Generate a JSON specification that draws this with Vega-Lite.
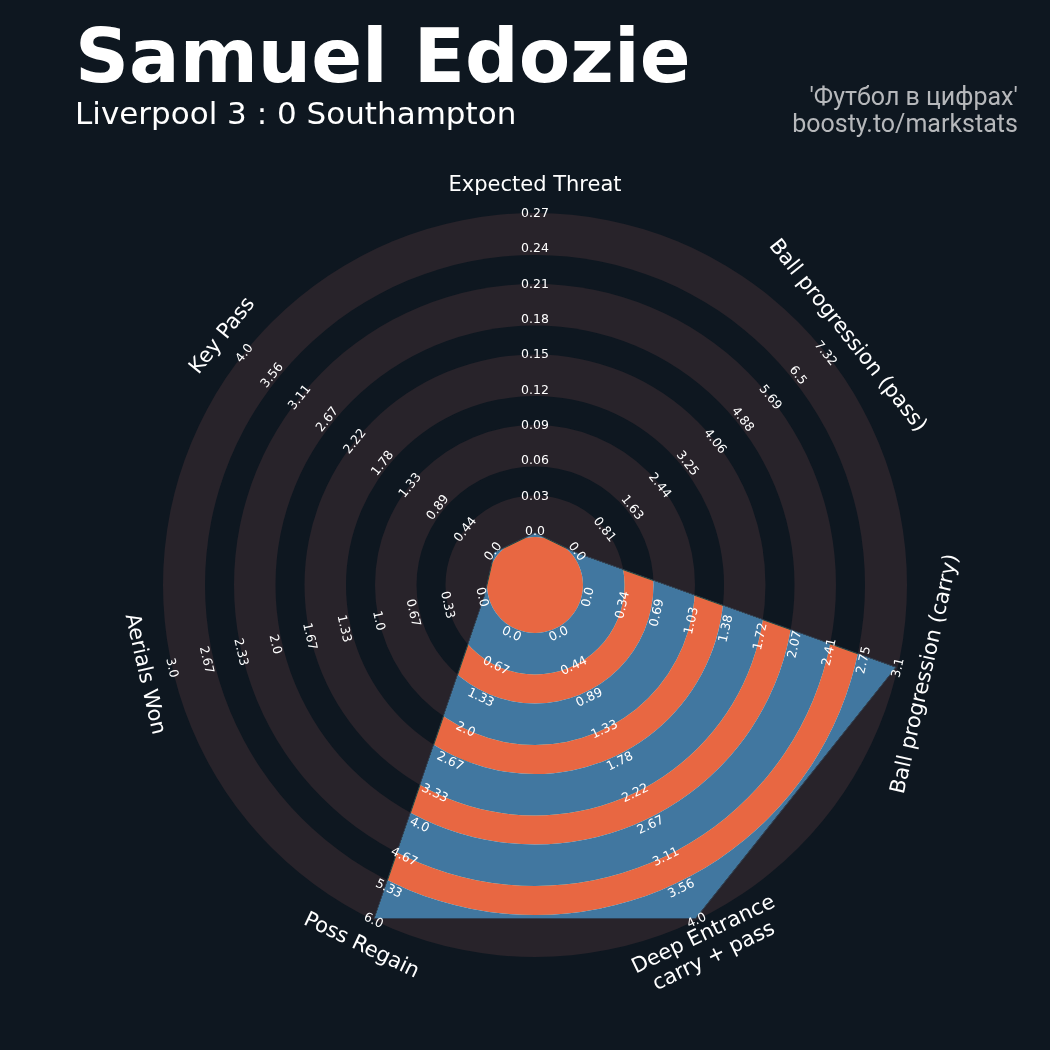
{
  "$schema": "https://vega.github.io/schema/vega-lite/v6.json",
  "width": 744,
  "height": 744,
  "autosize": {"type": "none"},
  "padding": {"left": 163, "top": 213, "right": 143, "bottom": 93},
  "background": "#0e1720",
  "config": {"view": {"stroke": null}, "font": "DejaVu Sans"},
  "title": {
    "text": "Samuel Edozie",
    "subtitle": "Liverpool 3 : 0 Southampton",
    "anchor": "start",
    "frame": "group",
    "dx": -88,
    "offset": -46,
    "font": "DejaVu Sans",
    "fontSize": 75,
    "fontWeight": "bold",
    "color": "#ffffff",
    "subtitleFont": "DejaVu Sans",
    "subtitleFontSize": 31,
    "subtitleColor": "#ffffff",
    "subtitlePadding": 2
  },
  "datasets": {
    "params": [
      {"index": 0, "name": "Expected Threat", "value": 0, "max": 0.27},
      {"index": 1, "name": "Ball progression (pass)", "value": 0, "max": 7.32},
      {"index": 2, "name": "Ball progression (carry)", "value": 3.1, "max": 3.1},
      {"index": 3, "name": "Deep Entrance\ncarry + pass", "value": 4.0, "max": 4.0},
      {"index": 4, "name": "Poss Regain", "value": 6.0, "max": 6.0},
      {"index": 5, "name": "Aerials Won", "value": 0, "max": 3.0},
      {"index": 6, "name": "Key Pass", "value": 0, "max": 4.0}
    ],
    "bg": [
      {"r": 1.0, "band": "gray"},
      {"r": 0.8871, "band": "dark"},
      {"r": 0.8091, "band": "gray"},
      {"r": 0.6976, "band": "dark"},
      {"r": 0.6196, "band": "gray"},
      {"r": 0.5081, "band": "dark"},
      {"r": 0.4301, "band": "gray"},
      {"r": 0.3185, "band": "dark"},
      {"r": 0.2406, "band": "gray"}
    ],
    "fg": [
      {"r1": 0, "r2": 0.129, "band": "orange"},
      {"r1": 0.129, "r2": 0.2406, "band": "blue"},
      {"r1": 0.2406, "r2": 0.3185, "band": "orange"},
      {"r1": 0.3185, "r2": 0.4301, "band": "blue"},
      {"r1": 0.4301, "r2": 0.5081, "band": "orange"},
      {"r1": 0.5081, "r2": 0.6196, "band": "blue"},
      {"r1": 0.6196, "r2": 0.6976, "band": "orange"},
      {"r1": 0.6976, "r2": 0.8091, "band": "blue"},
      {"r1": 0.8091, "r2": 0.8871, "band": "orange"},
      {"r1": 0.8871, "r2": 1.0, "band": "blue"}
    ],
    "ticks": [
      {"index": 0, "level": 0, "label": "0.0"}, {"index": 0, "level": 1, "label": "0.03"}, {"index": 0, "level": 2, "label": "0.06"}, {"index": 0, "level": 3, "label": "0.09"}, {"index": 0, "level": 4, "label": "0.12"}, {"index": 0, "level": 5, "label": "0.15"}, {"index": 0, "level": 6, "label": "0.18"}, {"index": 0, "level": 7, "label": "0.21"}, {"index": 0, "level": 8, "label": "0.24"}, {"index": 0, "level": 9, "label": "0.27"},
      {"index": 1, "level": 0, "label": "0.0"}, {"index": 1, "level": 1, "label": "0.81"}, {"index": 1, "level": 2, "label": "1.63"}, {"index": 1, "level": 3, "label": "2.44"}, {"index": 1, "level": 4, "label": "3.25"}, {"index": 1, "level": 5, "label": "4.06"}, {"index": 1, "level": 6, "label": "4.88"}, {"index": 1, "level": 7, "label": "5.69"}, {"index": 1, "level": 8, "label": "6.5"}, {"index": 1, "level": 9, "label": "7.32"},
      {"index": 2, "level": 0, "label": "0.0"}, {"index": 2, "level": 1, "label": "0.34"}, {"index": 2, "level": 2, "label": "0.69"}, {"index": 2, "level": 3, "label": "1.03"}, {"index": 2, "level": 4, "label": "1.38"}, {"index": 2, "level": 5, "label": "1.72"}, {"index": 2, "level": 6, "label": "2.07"}, {"index": 2, "level": 7, "label": "2.41"}, {"index": 2, "level": 8, "label": "2.75"}, {"index": 2, "level": 9, "label": "3.1"},
      {"index": 3, "level": 0, "label": "0.0"}, {"index": 3, "level": 1, "label": "0.44"}, {"index": 3, "level": 2, "label": "0.89"}, {"index": 3, "level": 3, "label": "1.33"}, {"index": 3, "level": 4, "label": "1.78"}, {"index": 3, "level": 5, "label": "2.22"}, {"index": 3, "level": 6, "label": "2.67"}, {"index": 3, "level": 7, "label": "3.11"}, {"index": 3, "level": 8, "label": "3.56"}, {"index": 3, "level": 9, "label": "4.0"},
      {"index": 4, "level": 0, "label": "0.0"}, {"index": 4, "level": 1, "label": "0.67"}, {"index": 4, "level": 2, "label": "1.33"}, {"index": 4, "level": 3, "label": "2.0"}, {"index": 4, "level": 4, "label": "2.67"}, {"index": 4, "level": 5, "label": "3.33"}, {"index": 4, "level": 6, "label": "4.0"}, {"index": 4, "level": 7, "label": "4.67"}, {"index": 4, "level": 8, "label": "5.33"}, {"index": 4, "level": 9, "label": "6.0"},
      {"index": 5, "level": 0, "label": "0.0"}, {"index": 5, "level": 1, "label": "0.33"}, {"index": 5, "level": 2, "label": "0.67"}, {"index": 5, "level": 3, "label": "1.0"}, {"index": 5, "level": 4, "label": "1.33"}, {"index": 5, "level": 5, "label": "1.67"}, {"index": 5, "level": 6, "label": "2.0"}, {"index": 5, "level": 7, "label": "2.33"}, {"index": 5, "level": 8, "label": "2.67"}, {"index": 5, "level": 9, "label": "3.0"},
      {"index": 6, "level": 0, "label": "0.0"}, {"index": 6, "level": 1, "label": "0.44"}, {"index": 6, "level": 2, "label": "0.89"}, {"index": 6, "level": 3, "label": "1.33"}, {"index": 6, "level": 4, "label": "1.78"}, {"index": 6, "level": 5, "label": "2.22"}, {"index": 6, "level": 6, "label": "2.67"}, {"index": 6, "level": 7, "label": "3.11"}, {"index": 6, "level": 8, "label": "3.56"}, {"index": 6, "level": 9, "label": "4.0"}
    ]
  },
  "resolve": {"scale": {"radius": "independent"}},
  "layer": [
    {
      "data": {"name": "bg"},
      "mark": {"type": "arc", "theta": 0, "theta2": 6.2832},
      "encoding": {
        "radius": {"field": "r", "type": "quantitative", "stack": null, "scale": {"type": "linear", "domain": [0, 1], "range": [0, 372]}},
        "color": {"field": "band", "type": "nominal", "legend": null,
          "scale": {"domain": ["gray", "dark", "orange", "blue"], "range": ["#28232a", "#0e1720", "#e86742", "#4177a0"]}}
      }
    },
    {
      "data": {"name": "params"},
      "transform": [
        {"calculate": "(52 + 318 * datum.value / datum.max) / 372", "as": "r"},
        {"calculate": "datum.r * sin(2 * PI * datum.index / 7)", "as": "px"},
        {"calculate": "datum.r * cos(2 * PI * datum.index / 7)", "as": "py"}
      ],
      "mark": {"type": "line", "interpolate": "linear-closed", "filled": true, "color": "#ffffff", "stroke": "#2e4055", "strokeWidth": 1.2},
      "encoding": {
        "x": {"field": "px", "type": "quantitative", "scale": {"domain": [-1, 1], "nice": false, "zero": false}, "axis": null},
        "y": {"field": "py", "type": "quantitative", "scale": {"domain": [-1, 1], "nice": false, "zero": false}, "axis": null},
        "order": {"field": "index", "type": "quantitative"}
      }
    },
    {
      "data": {"name": "fg"},
      "mark": {"type": "arc", "theta": 0, "theta2": 6.2832, "blend": "darken"},
      "encoding": {
        "radius": {"field": "r2", "type": "quantitative", "stack": null, "scale": {"type": "linear", "domain": [0, 1], "range": [0, 372]}},
        "radius2": {"field": "r1"},
        "color": {"field": "band", "type": "nominal", "legend": null}
      }
    },
    {
      "data": {"name": "ticks"},
      "transform": [
        {"calculate": "datum.index * 360 / 7", "as": "deg"},
        {"calculate": "datum.deg > 90 && datum.deg < 270 ? datum.deg - 180 : datum.deg", "as": "rot"}
      ],
      "mark": {"type": "text", "font": "DejaVu Sans", "fontSize": 12.5, "color": "#ffffff", "align": "center", "baseline": "middle"},
      "encoding": {
        "theta": {"field": "index", "type": "quantitative", "stack": false, "scale": {"domain": [0, 7], "range": [0, 6.283185307]}},
        "radius": {"field": "level", "type": "quantitative", "scale": {"type": "linear", "domain": [0, 9], "range": [54, 372], "zero": false}},
        "text": {"field": "label", "type": "nominal"},
        "angle": {"field": "rot", "type": "quantitative", "scale": null}
      }
    },
    {
      "data": {"name": "params"},
      "transform": [
        {"filter": "datum.index != 3"},
        {"calculate": "datum.index * 360 / 7", "as": "deg"},
        {"calculate": "datum.deg > 90 && datum.deg < 270 ? datum.deg - 180 : datum.deg", "as": "rot"}
      ],
      "mark": {"type": "text", "font": "DejaVu Sans", "fontSize": 21, "color": "#ffffff", "align": "center", "baseline": "middle", "radiusOffset": 28},
      "encoding": {
        "theta": {"field": "index", "type": "quantitative", "stack": false, "scale": {"domain": [0, 7], "range": [0, 6.283185307]}},
        "radius": {"datum": 9, "type": "quantitative", "scale": {"type": "linear", "domain": [0, 9], "range": [54, 372], "zero": false}},
        "text": {"field": "name", "type": "nominal"},
        "angle": {"field": "rot", "type": "quantitative", "scale": null}
      }
    },
    {
      "data": {"name": "params"},
      "transform": [
        {"filter": "datum.index == 3"},
        {"calculate": "datum.index * 360 / 7", "as": "deg"},
        {"calculate": "datum.deg > 90 && datum.deg < 270 ? datum.deg - 180 : datum.deg", "as": "rot"}
      ],
      "mark": {"type": "text", "font": "DejaVu Sans", "fontSize": 21, "color": "#ffffff", "align": "center", "baseline": "middle", "lineBreak": "\n", "lineHeight": 24, "dy": -12, "radiusOffset": 28},
      "encoding": {
        "theta": {"field": "index", "type": "quantitative", "stack": false, "scale": {"domain": [0, 7], "range": [0, 6.283185307]}},
        "radius": {"datum": 9, "type": "quantitative", "scale": {"type": "linear", "domain": [0, 9], "range": [54, 372], "zero": false}},
        "text": {"field": "name", "type": "nominal"},
        "angle": {"field": "rot", "type": "quantitative", "scale": null}
      }
    },
    {
      "data": {"values": [{"credit": "'Футбол в цифрах'\nboosty.to/markstats"}]},
      "mark": {"type": "text", "font": "Roboto", "fontSize": 25, "color": "#b6b8bb", "align": "right", "baseline": "middle", "lineBreak": "\n", "lineHeight": 27},
      "encoding": {
        "x": {"datum": 1.298, "type": "quantitative"},
        "y": {"datum": 1.312, "type": "quantitative"},
        "text": {"field": "credit", "type": "nominal"}
      }
    }
  ]
}
